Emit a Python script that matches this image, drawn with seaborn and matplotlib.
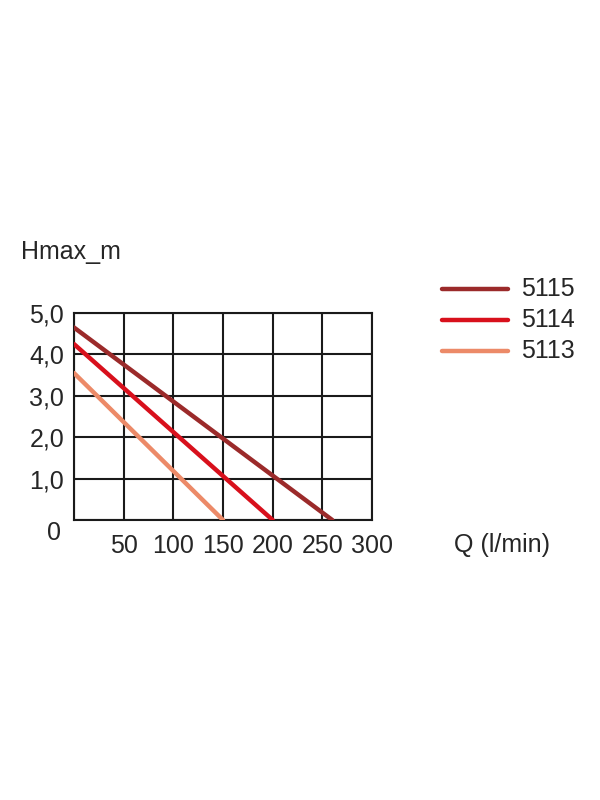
import matplotlib
matplotlib.use('Agg')
import matplotlib.pyplot as plt
import matplotlib.transforms as mtransforms
import pandas as pd
import seaborn as sns

# pump curves: flow Q (l/min) vs head (m)
models = ['5115', '5114', '5113']
q_5115 = [0, 260]
h_5115 = [4.65, 0]
q_5114 = [0, 200]
h_5114 = [4.25, 0]
q_5113 = [0, 150]
h_5113 = [3.55, 0]
colors = ['#9b2a2a', '#d8101c', '#ec8a68']

x_ticks = [50, 100, 150, 200, 250, 300]
x_labels = ['50', '100', '150', '200', '250', '300']
y_ticks = [0, 1, 2, 3, 4, 5]
y_labels = ['0', '1,0', '2,0', '3,0', '4,0', '5,0']

df = pd.concat([
    pd.DataFrame({'Q': q_5115, 'H': h_5115, 'model': '5115'}),
    pd.DataFrame({'Q': q_5114, 'H': h_5114, 'model': '5114'}),
    pd.DataFrame({'Q': q_5113, 'H': h_5113, 'model': '5113'}),
], ignore_index=True)

sns.set_style('white')
plt.rcParams['font.family'] = ['Liberation Sans', 'DejaVu Sans']

fig = plt.figure(figsize=(6, 8), dpi=100)
ax = fig.add_axes([0.1233, 0.35, 0.4967, 0.25875])

sns.lineplot(data=df, x='Q', y='H', hue='model', hue_order=models,
             palette=colors, linewidth=3.2, ax=ax, legend=False, zorder=3)

txt = '#262626'
ax.set_xlim(0, 300)
ax.set_ylim(0, 5)
ax.set_xticks([0] + x_ticks)
ax.set_xticklabels([''] + x_labels, fontsize=18, color=txt)
ax.set_yticks(y_ticks)
ax.set_yticklabels(y_labels, fontsize=18, color=txt)
ax.tick_params(axis='x', length=0, pad=10)
ax.tick_params(axis='y', length=0, pad=7)
ax.grid(True, color='#1a1a1a', linewidth=1.5)
for s in ax.spines.values():
    s.set_color('#1a1a1a')
    s.set_linewidth(1.5)
ax.set_xlabel('')
ax.set_ylabel('')

# the "0" label sits a bit below the x axis in the original
zero = ax.get_yticklabels()[0]
zero.set_transform(zero.get_transform() +
                   mtransforms.ScaledTranslation(-0.03, -0.1, fig.dpi_scale_trans))

fig.text(0.035, 0.685, 'Hmax_m', fontsize=18, color=txt, va='center')
fig.text(0.757, 0.319, 'Q (l/min)', fontsize=18, color=txt, va='center')

# legend drawn in figure coords
leg_y = [0.639, 0.600, 0.561]
for m, c, yy in zip(models, colors, leg_y):
    fig.add_artist(plt.Line2D([0.737, 0.847], [yy, yy], color=c, linewidth=3.2))
    fig.text(0.868, yy, m, fontsize=18, color=txt, va='center')

fig.savefig('out.png', dpi=100)
